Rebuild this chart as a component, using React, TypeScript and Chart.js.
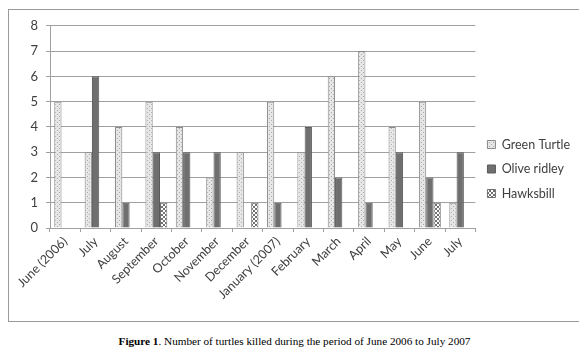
import React, { useEffect, useRef } from "react";
import { Chart, registerables } from "chart.js";

Chart.register(...registerables);

const categories = [
  "June (2006)", "July", "August", "September", "October", "November", "December",
  "January (2007)", "February", "March", "April", "May", "June", "July",
];
const greenTurtle = [5, 3, 4, 5, 4, 2, 3, 5, 3, 6, 7, 4, 5, 1];
const oliveRidley = [0, 6, 1, 3, 3, 3, 0, 1, 4, 2, 1, 3, 2, 3];
const hawksbill = [0, 0, 0, 1, 0, 0, 1, 0, 0, 0, 0, 0, 1, 0];
const yTicks = [0, 1, 2, 3, 4, 5, 6, 7, 8];

function makePattern(size: number, draw: (ctx: CanvasRenderingContext2D) => void) {
  const c = document.createElement("canvas");
  c.width = size;
  c.height = size;
  const ctx = c.getContext("2d")!;
  draw(ctx);
  return ctx.createPattern(c, "repeat")!;
}

export default function App() {
  const ref = useRef<HTMLCanvasElement>(null);
  useEffect(() => {
    const greenPat = makePattern(4, (ctx) => {
      ctx.fillStyle = "#e6e6e6";
      ctx.fillRect(0, 0, 4, 4);
      ctx.fillStyle = "#ababab";
      ctx.fillRect(0, 0, 1, 1);
      ctx.fillRect(2, 2, 1, 1);
    });
    const hawkPat = makePattern(4, (ctx) => {
      ctx.fillStyle = "#ffffff";
      ctx.fillRect(0, 0, 4, 4);
      ctx.fillStyle = "#707070";
      ctx.fillRect(0, 0, 2, 2);
      ctx.fillRect(2, 2, 2, 2);
    });
    const family = "Lato, 'Open Sans', sans-serif";
    const chart = new Chart(ref.current!, {
      type: "bar",
      data: {
        labels: categories,
        datasets: [
          {
            label: "Green Turtle",
            data: greenTurtle,
            backgroundColor: greenPat as any,
            borderColor: "#8a8a8a",
            borderWidth: 1,
          },
          {
            label: "Olive ridley",
            data: oliveRidley,
            backgroundColor: "#6f6f6f",
            borderColor: "#5a5a5a",
            borderWidth: 1,
          },
          {
            label: "Hawksbill",
            data: hawksbill,
            backgroundColor: hawkPat as any,
            borderColor: "#707070",
            borderWidth: 1,
          },
        ],
      },
      options: {
        responsive: false,
        animation: false,
        layout: { padding: { left: 0, top: 7, right: 0, bottom: 0 } },
        datasets: { bar: { categoryPercentage: 0.72, barPercentage: 1 } },
        plugins: {
          tooltip: { enabled: false },
          legend: {
            position: "right",
            align: "center",
            labels: {
              boxWidth: 8,
              boxHeight: 8,
              padding: 12,
              color: "#404040",
              font: { family, size: 12.5 },
            },
          },
        },
        scales: {
          x: {
            offset: true,
            grid: {
              offset: true,
              drawOnChartArea: false,
              drawTicks: true,
              tickLength: 4,
              color: "#a0a0a0",
            },
            border: { color: "#a0a0a0" },
            ticks: {
              maxRotation: 45,
              minRotation: 45,
              color: "#404040",
              font: { family, size: 12.5 },
              padding: 2,
              autoSkip: false,
            },
            afterFit: (s: any) => {
              s.height = 311 - 218;
            },
          },
          y: {
            min: 0,
            max: 8,
            afterBuildTicks: (s: any) => {
              s.ticks = yTicks.map((v) => ({ value: v }));
            },
            grid: { color: "#a0a0a0", tickLength: 4 },
            border: { color: "#a0a0a0" },
            ticks: { color: "#404040", font: { family, size: 13 }, padding: 8 },
            afterFit: (s: any) => {
              s.width = 41;
            },
          },
        },
      },
    });
    return () => chart.destroy();
  }, []);
  return (
    <div style={{ width: 587, fontFamily: "'Liberation Serif', 'Times New Roman', serif" }}>
      <div
        style={{
          width: 571,
          height: 311,
          border: "1px solid #9a9a9a",
          marginTop: 1,
        }}
      >
        <canvas ref={ref} width={571} height={311} style={{ display: "block" }} />
      </div>
      <div
        style={{
          width: 573,
          textAlign: "center",
          fontSize: 11.2,
          marginTop: 13,
          color: "#000",
        }}
      >
        <b>Figure 1</b>. Number of turtles killed during the period of June 2006 to July 2007
      </div>
    </div>
  );
}
